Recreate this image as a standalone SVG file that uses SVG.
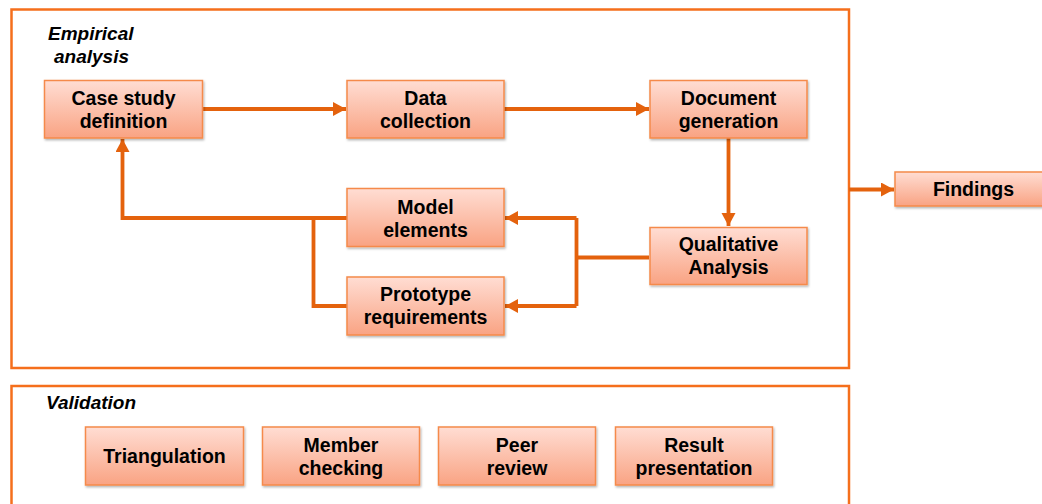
<svg xmlns="http://www.w3.org/2000/svg" width="1042" height="504" viewBox="0 0 1042 504">
<style>
.frame{fill:none;stroke:#F56F1C;stroke-width:2.5}
.node rect{fill:url(#g);stroke:#F58A4B;stroke-width:1.5;filter:url(#sh)}
.node text,.lbl{font-family:"Liberation Sans",Arial,sans-serif;font-weight:bold;font-size:19.5px;fill:#000;text-anchor:middle}
.lbl{font-style:italic;text-anchor:start;font-size:19px}
.conn path{fill:none;stroke:#E4620D;stroke-width:3.8}
</style>
<defs>
<linearGradient id="g" x1="0" y1="0" x2="0" y2="1">
<stop offset="0" stop-color="#FFDDD3"/>
<stop offset="1" stop-color="#F9A383"/>
</linearGradient>
<filter id="sh" x="-10%" y="-10%" width="130%" height="140%">
<feDropShadow dx="1" dy="1.5" stdDeviation="1" flood-color="#000" flood-opacity="0.3"/>
</filter>
<marker id="ah" markerUnits="userSpaceOnUse" markerWidth="16" markerHeight="16" refX="13" refY="7" orient="auto">
<path d="M0,0 L13,7 L0,14 Z" fill="#E4620D"/>
</marker>
</defs>
<rect class="frame" x="11.5" y="9.5" width="837.5" height="358.5"/>
<rect class="frame" x="11.5" y="386" width="837.5" height="130"/>
<text class="lbl" x="48" y="40">Empirical</text>
<text class="lbl" x="54" y="63">analysis</text>
<text class="lbl" x="46" y="409">Validation</text>
<g class="conn">
<path d="M202,109 H346" marker-end="url(#ah)"/>
<path d="M504,109 H649" marker-end="url(#ah)"/>
<path d="M728.5,138 V226" marker-end="url(#ah)"/>
<path d="M649,257.5 H576.5"/>
<path d="M576.5,218 V306"/>
<path d="M576.5,218 H505" marker-end="url(#ah)"/>
<path d="M576.5,306 H505" marker-end="url(#ah)"/>
<path d="M347,218 H122.5 V139" marker-end="url(#ah)"/>
<path d="M347,306 H313.5 V218"/>
<path d="M849,189.5 H894" marker-end="url(#ah)"/>
</g>
<g id="case-study" class="node"><rect x="44.5" y="80.5" width="158" height="57.5"/><text x="123.5" y="105">Case study</text><text x="123.5" y="128">definition</text></g>
<g id="data-collection" class="node"><rect x="347" y="80.5" width="157" height="57.5"/><text x="425.5" y="105">Data</text><text x="425.5" y="128">collection</text></g>
<g id="document-generation" class="node"><rect x="650" y="80.5" width="157" height="57.5"/><text x="728.5" y="105">Document</text><text x="728.5" y="128">generation</text></g>
<g id="model-elements" class="node"><rect x="347" y="188.5" width="157" height="58"/><text x="425.5" y="214">Model</text><text x="425.5" y="237">elements</text></g>
<g id="prototype-requirements" class="node"><rect x="347" y="277" width="157" height="58"/><text x="425.5" y="301">Prototype</text><text x="425.5" y="324">requirements</text></g>
<g id="qualitative-analysis" class="node"><rect x="650" y="227.5" width="157" height="57"/><text x="728.5" y="251">Qualitative</text><text x="728.5" y="274">Analysis</text></g>
<g id="findings" class="node"><rect x="895" y="172" width="160" height="34"/><text x="973.5" y="196">Findings</text></g>
<g id="triangulation" class="node"><rect x="85.5" y="427" width="158" height="58"/><text x="164.5" y="463">Triangulation</text></g>
<g id="member-checking" class="node"><rect x="262.5" y="427" width="157" height="58"/><text x="341" y="452">Member</text><text x="341" y="475">checking</text></g>
<g id="peer-review" class="node"><rect x="438.5" y="427" width="157" height="58"/><text x="517" y="452">Peer</text><text x="517" y="475">review</text></g>
<g id="result-presentation" class="node"><rect x="615.5" y="427" width="157" height="58"/><text x="694" y="452">Result</text><text x="694" y="475">presentation</text></g>
</svg>
